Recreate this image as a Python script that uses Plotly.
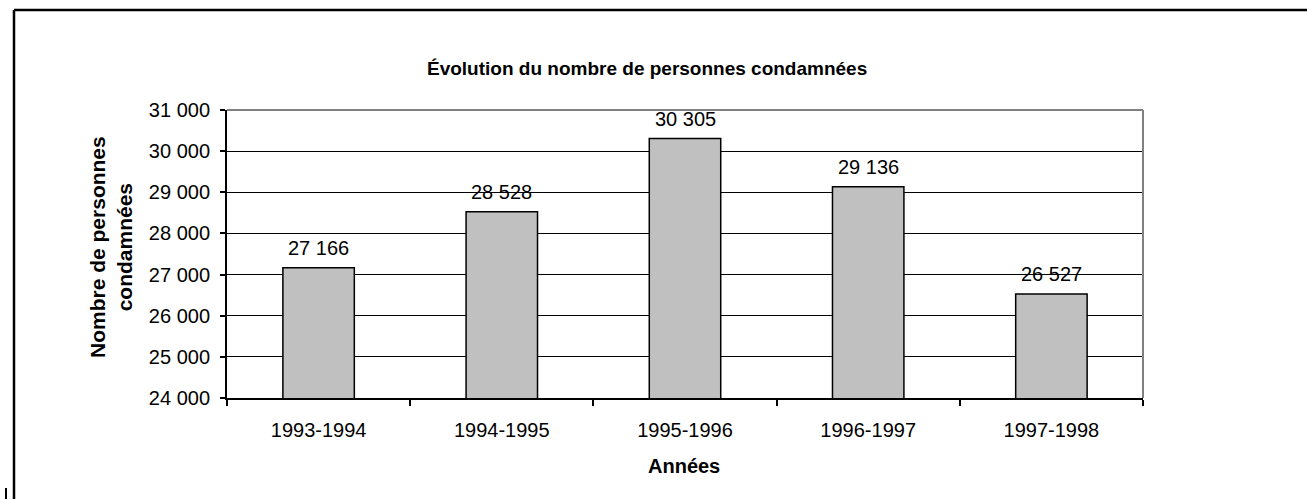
import plotly.graph_objects as go

categories = ["1993-1994", "1994-1995", "1995-1996", "1996-1997", "1997-1998"]
values = [27166, 28528, 30305, 29136, 26527]
value_labels = ["27 166", "28 528", "30 305", "29 136", "26 527"]
title_text = "Évolution du nombre de personnes condamnées"
y_title = "Nombre de personnes<br>condamnées"
x_title = "Années"

W, H = 1307, 499
L, R, T, B = 227, 164, 110, 101
PW, PH = W - L - R, H - T - B


def px(x):
    return (x - L) / PW


def py(y):
    return (H - B - y) / PH


FONT = "Liberation Sans, Arial, sans-serif"
FS = 20

fig = go.Figure()
fig.add_trace(go.Bar(
    x=categories, y=values, width=0.39,
    marker=dict(color="#C0C0C0", line=dict(color="#000000", width=1.5)),
    hoverinfo="skip",
))

for c, v, t in zip(categories, values, value_labels):
    fig.add_annotation(x=c, y=v, text=t, showarrow=False, yanchor="bottom",
                       yshift=7, font=dict(family=FONT, size=FS, color="#000"))

fig.add_annotation(x=px(647), y=py(68), xref="paper", yref="paper", text="<b>" + title_text + "</b>",
                   showarrow=False, xanchor="center", yanchor="middle",
                   font=dict(family=FONT, size=19, color="#000"))
fig.add_annotation(x=px(111), y=py(247), xref="paper", yref="paper", text="<b>" + y_title + "</b>",
                   showarrow=False, xanchor="center", yanchor="middle", textangle=-90,
                   font=dict(family=FONT, size=21, color="#000"))
fig.add_annotation(x=px(684), y=py(466), xref="paper", yref="paper", text="<b>" + x_title + "</b>",
                   showarrow=False, xanchor="center", yanchor="middle",
                   font=dict(family=FONT, size=20, color="#000"))

# plot-area border (top and right, grey)
fig.add_shape(type="line", xref="paper", yref="paper", x0=0, y0=1, x1=1, y1=1,
              line=dict(color="#808080", width=2))
fig.add_shape(type="line", xref="paper", yref="paper", x0=1, y0=0, x1=1, y1=1,
              line=dict(color="#808080", width=2))
# outer chart border (top and left)
fig.add_shape(type="line", xref="paper", yref="paper", x0=px(14), y0=py(10), x1=px(1307), y1=py(10),
              line=dict(color="#000", width=2.5))
fig.add_shape(type="line", xref="paper", yref="paper", x0=px(14), y0=py(10), x1=px(14), y1=py(499),
              line=dict(color="#000", width=2.5))
fig.add_shape(type="line", xref="paper", yref="paper", x0=px(6), y0=py(488), x1=px(6), y1=py(499),
              line=dict(color="#000", width=2))

fig.update_layout(
    width=W, height=H,
    margin=dict(l=L, r=R, t=T, b=B, autoexpand=False),
    paper_bgcolor="#FFFFFF", plot_bgcolor="#FFFFFF",
    separators=", ",
    showlegend=False,
    font=dict(family=FONT, size=FS, color="#000"),
)
fig.update_xaxes(
    type="category", showgrid=False, showline=True, linecolor="#000", linewidth=2,
    ticks="outside", tickson="boundaries", ticklen=6, tickwidth=2, tickcolor="#000",
    ticklabelstandoff=13, tickfont=dict(family=FONT, size=FS, color="#000"),
    range=[-0.5, 4.5],
)
fig.update_yaxes(
    range=[24000, 31000], dtick=1000, tickformat=",d",
    showgrid=True, gridcolor="#000", gridwidth=1, zeroline=False,
    showline=True, linecolor="#000", linewidth=2,
    ticks="outside", ticklen=5, tickwidth=2, tickcolor="#000",
    ticklabelstandoff=6, tickfont=dict(family=FONT, size=FS, color="#000"),
)

fig.write_html("out.html", config={"displayModeBar": False, "staticPlot": True},
               post_script="document.body.style.margin='0';document.body.style.padding='0';")
